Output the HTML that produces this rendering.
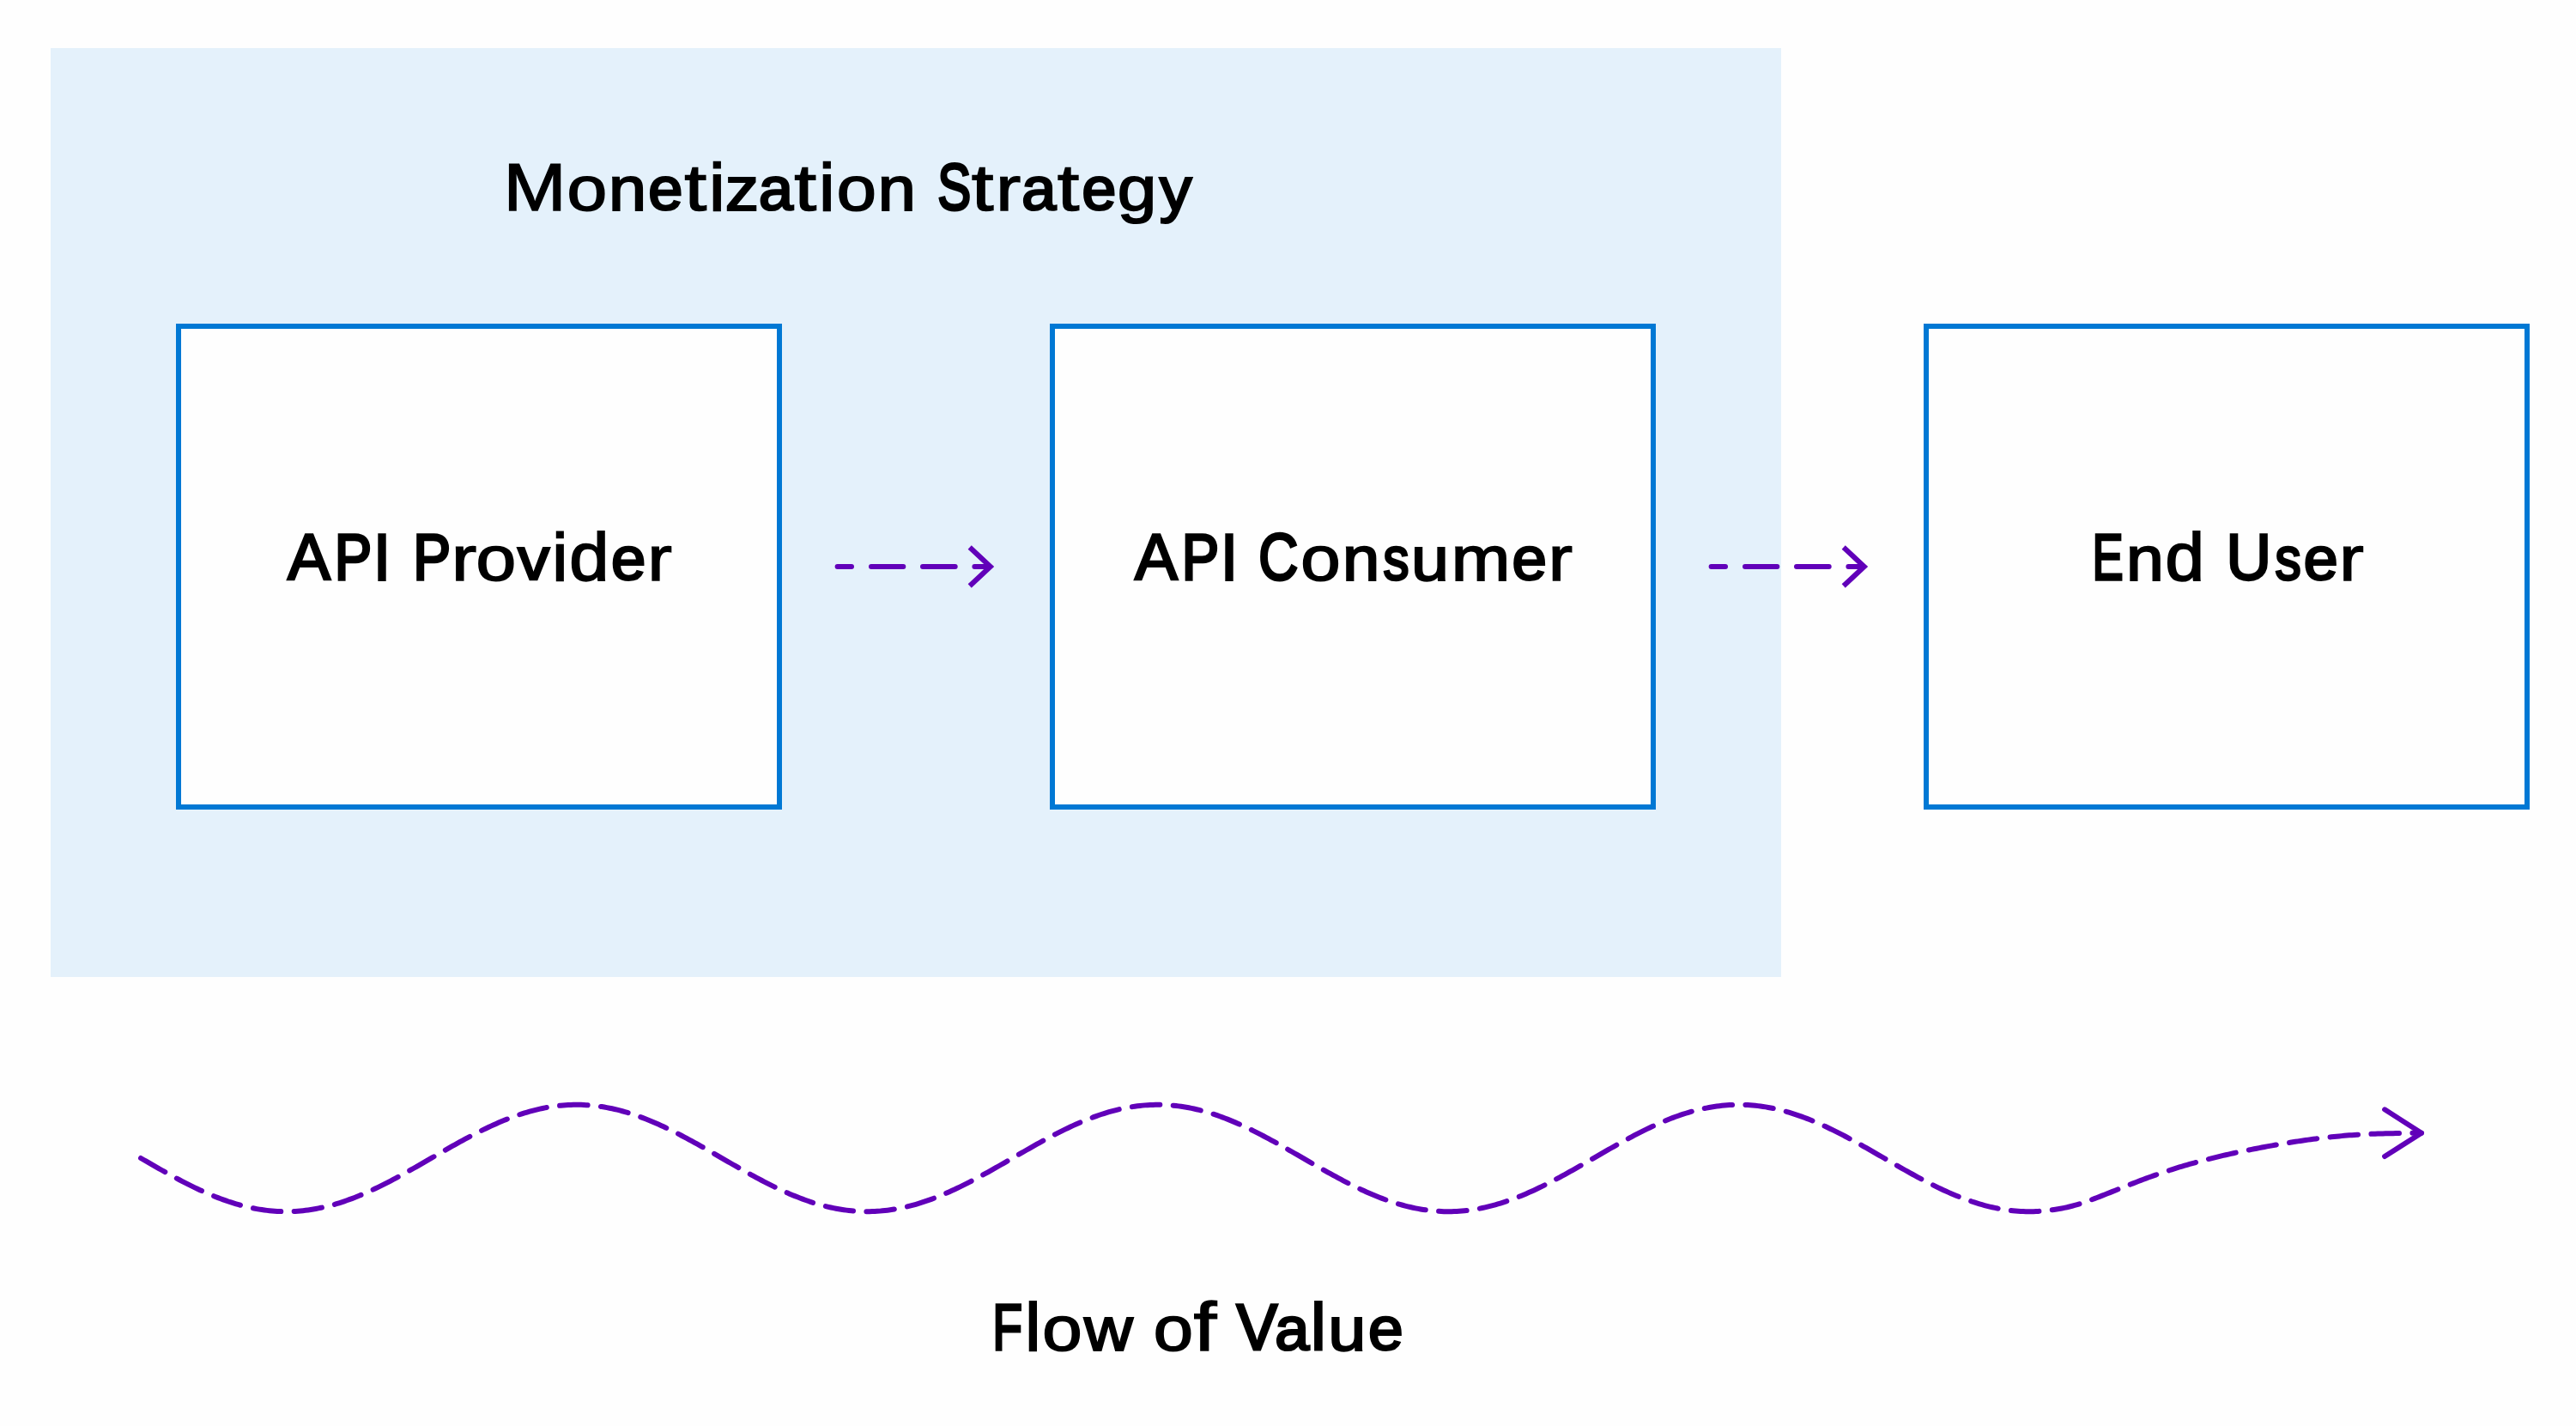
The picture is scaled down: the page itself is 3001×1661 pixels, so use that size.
<!DOCTYPE html>
<html lang="en"><head><meta charset="utf-8"><title>API Monetization - Flow of Value</title>
<style>
html,body{margin:0;padding:0;background:#FEFEFE;}
body{width:3001px;height:1661px;font-family:"Liberation Sans",sans-serif;}
</style></head><body>
<svg width="3001" height="1661" viewBox="0 0 3001 1661" style="display:block;font-family:'Liberation Sans',sans-serif;font-weight:400" fill="#000">
<title>API monetization: flow of value</title>
<desc>Monetization Strategy region containing API Provider and API Consumer, followed by End User; dashed arrows connect the boxes and a wavy dashed arrow labelled Flow of Value runs beneath.</desc>
<rect x="0" y="0" width="3001" height="1661" fill="#FEFEFE"/>
<rect x="59" y="56" width="2016" height="1082" fill="#E4F1FB"/>
<rect x="208" y="380" width="700" height="560" fill="#FEFEFE" stroke="#0078D4" stroke-width="6"/>
<rect x="1226" y="380" width="700" height="560" fill="#FEFEFE" stroke="#0078D4" stroke-width="6"/>
<rect x="2244" y="380" width="700" height="560" fill="#FEFEFE" stroke="#0078D4" stroke-width="6"/>
<line x1="975.6" y1="660" x2="992.0" y2="660" stroke="#6100B9" stroke-width="6" stroke-linecap="round"/>
<line x1="1015.0" y1="660" x2="1052.3" y2="660" stroke="#6100B9" stroke-width="6" stroke-linecap="round"/>
<line x1="1075.0" y1="660" x2="1112.7" y2="660" stroke="#6100B9" stroke-width="6" stroke-linecap="round"/>
<line x1="1135.4" y1="660" x2="1152.0" y2="660" stroke="#6100B9" stroke-width="6" stroke-linecap="round"/>
<polyline points="1129.7,637.5 1153.8,660 1129.7,682.5" fill="none" stroke="#6100B9" stroke-width="6" stroke-linejoin="miter" stroke-linecap="butt"/>
<line x1="1993.6" y1="660" x2="2010.0" y2="660" stroke="#6100B9" stroke-width="6" stroke-linecap="round"/>
<line x1="2033.0" y1="660" x2="2070.3" y2="660" stroke="#6100B9" stroke-width="6" stroke-linecap="round"/>
<line x1="2093.0" y1="660" x2="2130.7" y2="660" stroke="#6100B9" stroke-width="6" stroke-linecap="round"/>
<line x1="2153.4" y1="660" x2="2170.0" y2="660" stroke="#6100B9" stroke-width="6" stroke-linecap="round"/>
<polyline points="2147.7,637.5 2171.8,660 2147.7,682.5" fill="none" stroke="#6100B9" stroke-width="6" stroke-linejoin="miter" stroke-linecap="butt"/>
<path d="M164.00 1349.00 L167.00 1350.73 L170.00 1352.46 L173.00 1354.19 L176.00 1355.91 L179.00 1357.63 L182.00 1359.34 L185.00 1361.05 L188.00 1362.74 L191.00 1364.42 L194.00 1366.10 L197.00 1367.75 L200.00 1369.40 L203.00 1371.03 L206.00 1372.64 L209.00 1374.23 L212.00 1375.80 L215.00 1377.35 L218.00 1378.88 L221.00 1380.39 L224.00 1381.87 L227.00 1383.33 L230.00 1384.76 L233.00 1386.16 L236.00 1387.54 L239.00 1388.88 L242.00 1390.20 L245.00 1391.48 L248.00 1392.73 L251.00 1393.94 L254.00 1395.12 L257.00 1396.26 L260.00 1397.37 L263.00 1398.44 L266.00 1399.47 L269.00 1400.47 L272.00 1401.42 L275.00 1402.33 L278.00 1403.20 L281.00 1404.03 L284.00 1404.81 L287.00 1405.56 L290.00 1406.26 L293.00 1406.91 L296.00 1407.52 L299.00 1408.08 L302.00 1408.60 L305.00 1409.07 L308.00 1409.50 L311.00 1409.88 L314.00 1410.21 L317.00 1410.49 L320.00 1410.73 L323.00 1410.92 L326.00 1411.06 L329.00 1411.15 L332.00 1411.20 L335.00 1411.19 L338.00 1411.14 L341.00 1411.04 L344.00 1410.89 L347.00 1410.69 L350.00 1410.45 L353.00 1410.16 L356.00 1409.82 L359.00 1409.43 L362.00 1409.00 L365.00 1408.52 L368.00 1407.99 L371.00 1407.42 L374.00 1406.80 L377.00 1406.14 L380.00 1405.44 L383.00 1404.69 L386.00 1403.89 L389.00 1403.06 L392.00 1402.18 L395.00 1401.26 L398.00 1400.30 L401.00 1399.30 L404.00 1398.27 L407.00 1397.19 L410.00 1396.08 L413.00 1394.93 L416.00 1393.74 L419.00 1392.52 L422.00 1391.27 L425.00 1389.98 L428.00 1388.66 L431.00 1387.31 L434.00 1385.93 L437.00 1384.53 L440.00 1383.09 L443.00 1381.63 L446.00 1380.14 L449.00 1378.63 L452.00 1377.10 L455.00 1375.54 L458.00 1373.96 L461.00 1372.37 L464.00 1370.76 L467.00 1369.12 L470.00 1367.48 L473.00 1365.82 L476.00 1364.14 L479.00 1362.46 L482.00 1360.76 L485.00 1359.06 L488.00 1357.35 L491.00 1355.63 L494.00 1353.90 L497.00 1352.17 L500.00 1350.44 L503.00 1348.71 L506.00 1346.98 L509.00 1345.25 L512.00 1343.52 L515.00 1341.80 L518.00 1340.08 L521.00 1338.37 L524.00 1336.67 L527.00 1334.98 L530.00 1333.30 L533.00 1331.63 L536.00 1329.97 L539.00 1328.33 L542.00 1326.71 L545.00 1325.10 L548.00 1323.51 L551.00 1321.94 L554.00 1320.39 L557.00 1318.86 L560.00 1317.36 L563.00 1315.88 L566.00 1314.43 L569.00 1313.00 L572.00 1311.60 L575.00 1310.24 L578.00 1308.90 L581.00 1307.59 L584.00 1306.31 L587.00 1305.07 L590.00 1303.86 L593.00 1302.69 L596.00 1301.55 L599.00 1300.45 L602.00 1299.38 L605.00 1298.36 L608.00 1297.37 L611.00 1296.43 L614.00 1295.52 L617.00 1294.66 L620.00 1293.84 L623.00 1293.06 L626.00 1292.32 L629.00 1291.63 L632.00 1290.98 L635.00 1290.38 L638.00 1289.83 L641.00 1289.32 L644.00 1288.85 L647.00 1288.43 L650.00 1288.06 L653.00 1287.74 L656.00 1287.46 L659.00 1287.23 L662.00 1287.05 L665.00 1286.92 L668.00 1286.84 L671.00 1286.80 L674.00 1286.81 L677.00 1286.87 L680.00 1286.98 L683.00 1287.14 L686.00 1287.34 L689.00 1287.60 L692.00 1287.90 L695.00 1288.24 L698.00 1288.64 L701.00 1289.08 L704.00 1289.57 L707.00 1290.10 L710.00 1290.68 L713.00 1291.30 L716.00 1291.97 L719.00 1292.69 L722.00 1293.44 L725.00 1294.24 L728.00 1295.09 L731.00 1295.97 L734.00 1296.90 L737.00 1297.86 L740.00 1298.87 L743.00 1299.91 L746.00 1300.99 L749.00 1302.11 L752.00 1303.27 L755.00 1304.46 L758.00 1305.69 L761.00 1306.95 L764.00 1308.24 L767.00 1309.56 L770.00 1310.92 L773.00 1312.30 L776.00 1313.71 L779.00 1315.15 L782.00 1316.62 L785.00 1318.11 L788.00 1319.62 L791.00 1321.16 L794.00 1322.72 L797.00 1324.30 L800.00 1325.90 L803.00 1327.52 L806.00 1329.15 L809.00 1330.80 L812.00 1332.46 L815.00 1334.14 L818.00 1335.82 L821.00 1337.52 L824.00 1339.23 L827.00 1340.94 L830.00 1342.66 L833.00 1344.39 L836.00 1346.11 L839.00 1347.85 L842.00 1349.58 L845.00 1351.31 L848.00 1353.04 L851.00 1354.76 L854.00 1356.49 L857.00 1358.20 L860.00 1359.91 L863.00 1361.61 L866.00 1363.30 L869.00 1364.98 L872.00 1366.65 L875.00 1368.30 L878.00 1369.94 L881.00 1371.56 L884.00 1373.17 L887.00 1374.76 L890.00 1376.32 L893.00 1377.87 L896.00 1379.39 L899.00 1380.89 L902.00 1382.36 L905.00 1383.81 L908.00 1385.23 L911.00 1386.63 L914.00 1387.99 L917.00 1389.32 L920.00 1390.63 L923.00 1391.90 L926.00 1393.13 L929.00 1394.34 L932.00 1395.51 L935.00 1396.64 L938.00 1397.73 L941.00 1398.79 L944.00 1399.81 L947.00 1400.79 L950.00 1401.73 L953.00 1402.62 L956.00 1403.48 L959.00 1404.30 L962.00 1405.07 L965.00 1405.80 L968.00 1406.48 L971.00 1407.12 L974.00 1407.71 L977.00 1408.26 L980.00 1408.76 L983.00 1409.22 L986.00 1409.63 L989.00 1409.99 L992.00 1410.31 L995.00 1410.58 L998.00 1410.80 L1001.00 1410.97 L1004.00 1411.10 L1007.00 1411.17 L1010.00 1411.20 L1013.00 1411.18 L1016.00 1411.11 L1019.00 1411.00 L1022.00 1410.83 L1025.00 1410.62 L1028.00 1410.36 L1031.00 1410.05 L1034.00 1409.70 L1037.00 1409.29 L1040.00 1408.84 L1043.00 1408.35 L1046.00 1407.81 L1049.00 1407.22 L1052.00 1406.59 L1055.00 1405.91 L1058.00 1405.19 L1061.00 1404.43 L1064.00 1403.62 L1067.00 1402.77 L1070.00 1401.88 L1073.00 1400.95 L1076.00 1399.97 L1079.00 1398.96 L1082.00 1397.91 L1085.00 1396.82 L1088.00 1395.70 L1091.00 1394.54 L1094.00 1393.34 L1097.00 1392.11 L1100.00 1390.84 L1103.00 1389.54 L1106.00 1388.21 L1109.00 1386.86 L1112.00 1385.47 L1115.00 1384.05 L1118.00 1382.61 L1121.00 1381.14 L1124.00 1379.64 L1127.00 1378.12 L1130.00 1376.58 L1133.00 1375.02 L1136.00 1373.43 L1139.00 1371.83 L1142.00 1370.21 L1145.00 1368.58 L1148.00 1366.93 L1151.00 1365.26 L1154.00 1363.58 L1157.00 1361.89 L1160.00 1360.20 L1163.00 1358.49 L1166.00 1356.77 L1169.00 1355.05 L1172.00 1353.33 L1175.00 1351.60 L1178.00 1349.87 L1181.00 1348.13 L1184.00 1346.40 L1187.00 1344.67 L1190.00 1342.95 L1193.00 1341.23 L1196.00 1339.51 L1199.00 1337.80 L1202.00 1336.11 L1205.00 1334.42 L1208.00 1332.74 L1211.00 1331.07 L1214.00 1329.42 L1217.00 1327.79 L1220.00 1326.17 L1223.00 1324.57 L1226.00 1322.98 L1229.00 1321.42 L1232.00 1319.88 L1235.00 1318.36 L1238.00 1316.86 L1241.00 1315.39 L1244.00 1313.95 L1247.00 1312.53 L1250.00 1311.14 L1253.00 1309.79 L1256.00 1308.46 L1259.00 1307.16 L1262.00 1305.89 L1265.00 1304.66 L1268.00 1303.46 L1271.00 1302.30 L1274.00 1301.18 L1277.00 1300.09 L1280.00 1299.04 L1283.00 1298.03 L1286.00 1297.05 L1289.00 1296.12 L1292.00 1295.23 L1295.00 1294.38 L1298.00 1293.57 L1301.00 1292.81 L1304.00 1292.09 L1307.00 1291.41 L1310.00 1290.78 L1313.00 1290.19 L1316.00 1289.65 L1319.00 1289.16 L1322.00 1288.71 L1325.00 1288.30 L1328.00 1287.95 L1331.00 1287.64 L1334.00 1287.38 L1337.00 1287.17 L1340.00 1287.00 L1343.00 1286.89 L1346.00 1286.82 L1349.00 1286.80 L1352.00 1286.83 L1355.00 1286.90 L1358.00 1287.03 L1361.00 1287.20 L1364.00 1287.42 L1367.00 1287.69 L1370.00 1288.01 L1373.00 1288.37 L1376.00 1288.78 L1379.00 1289.24 L1382.00 1289.74 L1385.00 1290.29 L1388.00 1290.88 L1391.00 1291.52 L1394.00 1292.20 L1397.00 1292.93 L1400.00 1293.70 L1403.00 1294.52 L1406.00 1295.38 L1409.00 1296.27 L1412.00 1297.21 L1415.00 1298.19 L1418.00 1299.21 L1421.00 1300.27 L1424.00 1301.36 L1427.00 1302.49 L1430.00 1303.66 L1433.00 1304.87 L1436.00 1306.10 L1439.00 1307.37 L1442.00 1308.68 L1445.00 1310.01 L1448.00 1311.37 L1451.00 1312.77 L1454.00 1314.19 L1457.00 1315.64 L1460.00 1317.11 L1463.00 1318.61 L1466.00 1320.13 L1469.00 1321.68 L1472.00 1323.24 L1475.00 1324.83 L1478.00 1326.44 L1481.00 1328.06 L1484.00 1329.70 L1487.00 1331.35 L1490.00 1333.02 L1493.00 1334.70 L1496.00 1336.39 L1499.00 1338.09 L1502.00 1339.80 L1505.00 1341.51 L1508.00 1343.24 L1511.00 1344.96 L1514.00 1346.69 L1517.00 1348.42 L1520.00 1350.15 L1523.00 1351.89 L1526.00 1353.61 L1529.00 1355.34 L1532.00 1357.06 L1535.00 1358.77 L1538.00 1360.48 L1541.00 1362.18 L1544.00 1363.86 L1547.00 1365.54 L1550.00 1367.20 L1553.00 1368.85 L1556.00 1370.48 L1559.00 1372.10 L1562.00 1373.70 L1565.00 1375.28 L1568.00 1376.84 L1571.00 1378.38 L1574.00 1379.89 L1577.00 1381.38 L1580.00 1382.85 L1583.00 1384.29 L1586.00 1385.70 L1589.00 1387.08 L1592.00 1388.44 L1595.00 1389.76 L1598.00 1391.05 L1601.00 1392.31 L1604.00 1393.54 L1607.00 1394.73 L1610.00 1395.89 L1613.00 1397.01 L1616.00 1398.09 L1619.00 1399.13 L1622.00 1400.14 L1625.00 1401.10 L1628.00 1402.03 L1631.00 1402.91 L1634.00 1403.76 L1637.00 1404.56 L1640.00 1405.31 L1643.00 1406.03 L1646.00 1406.70 L1649.00 1407.32 L1652.00 1407.90 L1655.00 1408.43 L1658.00 1408.92 L1661.00 1409.36 L1664.00 1409.76 L1667.00 1410.10 L1670.00 1410.40 L1673.00 1410.66 L1676.00 1410.86 L1679.00 1411.02 L1682.00 1411.13 L1685.00 1411.19 L1688.00 1411.20 L1691.00 1411.16 L1694.00 1411.08 L1697.00 1410.95 L1700.00 1410.77 L1703.00 1410.54 L1706.00 1410.26 L1709.00 1409.94 L1712.00 1409.57 L1715.00 1409.15 L1718.00 1408.68 L1721.00 1408.17 L1724.00 1407.62 L1727.00 1407.02 L1730.00 1406.37 L1733.00 1405.68 L1736.00 1404.94 L1739.00 1404.16 L1742.00 1403.34 L1745.00 1402.48 L1748.00 1401.57 L1751.00 1400.63 L1754.00 1399.64 L1757.00 1398.62 L1760.00 1397.55 L1763.00 1396.45 L1766.00 1395.31 L1769.00 1394.14 L1772.00 1392.93 L1775.00 1391.69 L1778.00 1390.41 L1781.00 1389.10 L1784.00 1387.76 L1787.00 1386.40 L1790.00 1385.00 L1793.00 1383.57 L1796.00 1382.12 L1799.00 1380.64 L1802.00 1379.14 L1805.00 1377.61 L1808.00 1376.06 L1811.00 1374.49 L1814.00 1372.90 L1817.00 1371.29 L1820.00 1369.67 L1823.00 1368.03 L1826.00 1366.37 L1829.00 1364.70 L1832.00 1363.02 L1835.00 1361.33 L1838.00 1359.63 L1841.00 1357.92 L1844.00 1356.20 L1847.00 1354.48 L1850.00 1352.75 L1853.00 1351.02 L1856.00 1349.29 L1859.00 1347.56 L1862.00 1345.83 L1865.00 1344.10 L1868.00 1342.37 L1871.00 1340.65 L1874.00 1338.94 L1877.00 1337.24 L1880.00 1335.54 L1883.00 1333.86 L1886.00 1332.18 L1889.00 1330.52 L1892.00 1328.88 L1895.00 1327.24 L1898.00 1325.63 L1901.00 1324.04 L1904.00 1322.46 L1907.00 1320.90 L1910.00 1319.37 L1913.00 1317.86 L1916.00 1316.37 L1919.00 1314.91 L1922.00 1313.47 L1925.00 1312.07 L1928.00 1310.69 L1931.00 1309.34 L1934.00 1308.02 L1937.00 1306.73 L1940.00 1305.48 L1943.00 1304.26 L1946.00 1303.07 L1949.00 1301.92 L1952.00 1300.81 L1955.00 1299.73 L1958.00 1298.70 L1961.00 1297.70 L1964.00 1296.74 L1967.00 1295.82 L1970.00 1294.94 L1973.00 1294.11 L1976.00 1293.31 L1979.00 1292.56 L1982.00 1291.86 L1985.00 1291.20 L1988.00 1290.58 L1991.00 1290.01 L1994.00 1289.48 L1997.00 1289.00 L2000.00 1288.57 L2003.00 1288.18 L2006.00 1287.84 L2009.00 1287.55 L2012.00 1287.31 L2015.00 1287.11 L2018.00 1286.96 L2021.00 1286.86 L2024.00 1286.81 L2027.00 1286.80 L2030.00 1286.85 L2033.00 1286.94 L2036.00 1287.08 L2039.00 1287.27 L2042.00 1287.51 L2045.00 1287.79 L2048.00 1288.12 L2051.00 1288.50 L2054.00 1288.93 L2057.00 1289.40 L2060.00 1289.92 L2063.00 1290.48 L2066.00 1291.09 L2069.00 1291.74 L2072.00 1292.44 L2075.00 1293.19 L2078.00 1293.97 L2081.00 1294.80 L2084.00 1295.67 L2087.00 1296.58 L2090.00 1297.53 L2093.00 1298.53 L2096.00 1299.56 L2099.00 1300.63 L2102.00 1301.74 L2105.00 1302.88 L2108.00 1304.06 L2111.00 1305.27 L2114.00 1306.52 L2117.00 1307.80 L2120.00 1309.12 L2123.00 1310.46 L2126.00 1311.84 L2129.00 1313.24 L2132.00 1314.67 L2135.00 1316.13 L2138.00 1317.61 L2141.00 1319.12 L2144.00 1320.65 L2147.00 1322.20 L2150.00 1323.77 L2153.00 1325.36 L2156.00 1326.97 L2159.00 1328.60 L2162.00 1330.25 L2165.00 1331.90 L2168.00 1333.58 L2171.00 1335.26 L2174.00 1336.95 L2177.00 1338.66 L2180.00 1340.37 L2183.00 1342.09 L2186.00 1343.81 L2189.00 1345.54 L2192.00 1347.27 L2195.00 1349.00 L2198.00 1350.73 L2201.00 1352.46 L2204.00 1354.19 L2207.00 1355.91 L2210.00 1357.63 L2213.00 1359.34 L2216.00 1361.05 L2219.00 1362.74 L2222.00 1364.42 L2225.00 1366.10 L2228.00 1367.75 L2231.00 1369.40 L2234.00 1371.03 L2237.00 1372.64 L2240.00 1374.23 L2243.00 1375.80 L2246.00 1377.35 L2249.00 1378.88 L2252.00 1380.39 L2255.00 1381.87 L2258.00 1383.33 L2261.00 1384.76 L2264.00 1386.16 L2267.00 1387.54 L2270.00 1388.88 L2273.00 1390.20 L2276.00 1391.48 L2279.00 1392.73 L2282.00 1393.94 L2285.00 1395.12 L2288.00 1396.26 L2291.00 1397.37 L2294.00 1398.44 L2297.00 1399.47 L2300.00 1400.47 L2303.00 1401.42 L2306.00 1402.33 L2309.00 1403.20 L2312.00 1404.03 L2315.00 1404.81 L2318.00 1405.56 L2321.00 1406.26 L2324.00 1406.91 L2327.00 1407.52 L2330.00 1408.08 L2333.00 1408.60 L2336.00 1409.07 L2339.00 1409.50 L2342.00 1409.88 L2345.00 1410.21 L2348.00 1410.49 L2351.00 1410.73 L2354.00 1410.92 L2357.00 1411.06 L2360.00 1411.15 L2363.00 1411.20 L2366.00 1411.19 L2369.00 1411.14 L2372.00 1411.04 L2375.00 1410.89 L2378.00 1410.69 L2381.00 1410.45 L2384.00 1410.16 L2387.00 1409.82 L2390.00 1409.43 L2393.00 1409.00 L2396.00 1408.52 L2399.00 1408.02 L2402.00 1407.47 L2405.00 1406.87 L2408.00 1406.23 L2411.00 1405.52 L2414.00 1404.77 L2417.00 1403.96 L2420.00 1403.09 L2423.00 1402.17 L2426.00 1401.19 L2429.00 1400.17 L2432.00 1399.11 L2435.00 1398.01 L2437.00 1397.26 L2440.00 1396.14 L2443.00 1395.00 L2446.00 1393.84 L2449.00 1392.66 L2452.00 1391.48 L2455.00 1390.29 L2458.00 1389.09 L2461.00 1387.89 L2464.00 1386.68 L2467.00 1385.48 L2470.00 1384.28 L2473.00 1383.08 L2476.00 1381.89 L2479.00 1380.70 L2482.00 1379.52 L2485.00 1378.35 L2488.00 1377.19 L2491.00 1376.03 L2494.00 1374.90 L2497.00 1373.77 L2500.00 1372.65 L2503.00 1371.55 L2506.00 1370.47 L2509.00 1369.39 L2512.00 1368.33 L2515.00 1367.29 L2518.00 1366.26 L2521.00 1365.25 L2524.00 1364.25 L2527.00 1363.27 L2530.00 1362.30 L2533.00 1361.35 L2536.00 1360.42 L2539.00 1359.49 L2542.00 1358.59 L2545.00 1357.70 L2548.00 1356.82 L2551.00 1355.96 L2554.00 1355.11 L2557.00 1354.28 L2560.00 1353.46 L2563.00 1352.65 L2566.00 1351.86 L2569.00 1351.08 L2572.00 1350.31 L2575.00 1349.55 L2578.00 1348.81 L2581.00 1348.08 L2584.00 1347.36 L2587.00 1346.64 L2590.00 1345.94 L2593.00 1345.25 L2596.00 1344.57 L2599.00 1343.90 L2602.00 1343.24 L2605.00 1342.59 L2608.00 1341.95 L2611.00 1341.32 L2614.00 1340.69 L2617.00 1340.07 L2620.00 1339.47 L2623.00 1338.87 L2626.00 1338.27 L2629.00 1337.69 L2632.00 1337.11 L2635.00 1336.54 L2638.00 1335.98 L2641.00 1335.42 L2644.00 1334.88 L2647.00 1334.34 L2650.00 1333.81 L2653.00 1333.28 L2656.00 1332.77 L2659.00 1332.26 L2662.00 1331.76 L2665.00 1331.26 L2668.00 1330.78 L2671.00 1330.30 L2674.00 1329.84 L2677.00 1329.38 L2680.00 1328.93 L2683.00 1328.48 L2686.00 1328.05 L2689.00 1327.63 L2692.00 1327.22 L2695.00 1326.82 L2698.00 1326.42 L2701.00 1326.04 L2704.00 1325.67 L2707.00 1325.31 L2710.00 1324.96 L2713.00 1324.63 L2716.00 1324.30 L2719.00 1323.99 L2722.00 1323.69 L2725.00 1323.40 L2728.00 1323.12 L2731.00 1322.86 L2734.00 1322.60 L2737.00 1322.36 L2740.00 1322.14 L2743.00 1321.93 L2746.00 1321.73 L2749.00 1321.54 L2752.00 1321.36 L2755.00 1321.20 L2758.00 1321.05 L2761.00 1320.91 L2764.00 1320.79 L2767.00 1320.67 L2770.00 1320.57 L2773.00 1320.47 L2776.00 1320.39 L2779.00 1320.31 L2782.00 1320.24 L2785.00 1320.18 L2788.00 1320.13 L2791.00 1320.08 L2794.00 1320.04 L2797.00 1320.00 L2800.00 1319.96 L2803.00 1319.92 L2806.00 1319.87 L2809.00 1319.83 L2812.00 1319.78 L2815.00 1319.72 L2818.00 1319.65 L2821.00 1319.70" fill="none" stroke="#6100B9" stroke-width="6" stroke-linecap="round" stroke-linejoin="round" stroke-dasharray="32.6 15.4"/>
<polyline points="2778.1,1292.3 2821,1319.7 2778.1,1347.0" fill="none" stroke="#6100B9" stroke-width="6" stroke-linejoin="round" stroke-linecap="round"/>
<g text-rendering="geometricPrecision" font-size="77.5" stroke="#000" stroke-linejoin="miter">
<text transform="matrix(1.1325 0 0 1.0108 586.39 245)" stroke-width="1.40">M</text>
<text transform="matrix(1.0834 0 0 0.9422 660.50 245)" stroke-width="1.71">o</text>
<text transform="matrix(1.0222 0 0 0.9369 708.96 245)" stroke-width="2.20">n</text>
<text transform="matrix(0.9316 0 0 0.9047 755.34 244)" stroke-width="3.03">e</text>
<text transform="matrix(1.2080 0 0 0.9901 797.13 245)" stroke-width="1.40">t</text>
<text transform="matrix(1.0000 0 0 0.9991 826.71 245)" stroke-width="2.39">i</text>
<text transform="matrix(1.0143 0 0 0.9245 844.76 245)" stroke-width="2.26">z</text>
<text transform="matrix(0.9254 0 0 0.9041 884.08 244)" stroke-width="3.09">a</text>
<text transform="matrix(1.2033 0 0 0.9901 925.13 245)" stroke-width="1.40">t</text>
<text transform="matrix(1.0000 0 0 0.9991 954.71 245)" stroke-width="2.39">i</text>
<text transform="matrix(1.0701 0 0 0.9411 974.69 245)" stroke-width="1.81">o</text>
<text transform="matrix(1.0222 0 0 0.9369 1022.86 245)" stroke-width="2.20">n</text>
<text transform="matrix(0.7539 0 0 0.9854 1092.33 244)" stroke-width="3.40">S</text>
<text transform="matrix(1.1986 0 0 0.9901 1131.63 245)" stroke-width="1.40">t</text>
<text transform="matrix(1.1360 0 0 0.9457 1160.05 245)" stroke-width="1.40">r</text>
<text transform="matrix(0.9291 0 0 0.9045 1190.16 244)" stroke-width="3.05">a</text>
<text transform="matrix(1.1892 0 0 0.9901 1231.64 245)" stroke-width="1.40">t</text>
<text transform="matrix(0.9216 0 0 0.9037 1260.61 244)" stroke-width="3.13">e</text>
<text transform="matrix(1.0583 0 0 0.9426 1301.76 245)" stroke-width="1.91">g</text>
<text transform="matrix(0.9751 0 0 0.9207 1350.69 245)" stroke-width="2.61">y</text>
<text transform="matrix(0.9672 0 0 0.9842 335.05 675)" stroke-width="2.68">A</text>
<text transform="matrix(0.8399 0 0 0.9778 389.79 675)" stroke-width="3.40">P</text>
<text transform="matrix(1.0000 0 0 1.0073 434.13 676)" stroke-width="2.17">I</text>
<text transform="matrix(0.8489 0 0 0.9778 481.25 675)" stroke-width="3.40">P</text>
<text transform="matrix(1.1456 0 0 0.9504 525.71 676)" stroke-width="1.40">r</text>
<text transform="matrix(1.0834 0 0 0.9469 554.40 676)" stroke-width="1.71">o</text>
<text transform="matrix(0.9652 0 0 0.9008 603.05 675)" stroke-width="2.70">v</text>
<text transform="matrix(1.0000 0 0 1.0035 643.86 676)" stroke-width="2.29">i</text>
<text transform="matrix(1.0723 0 0 1.0165 663.27 676)" stroke-width="1.80">d</text>
<text transform="matrix(0.9349 0 0 0.9097 712.12 675)" stroke-width="3.00">e</text>
<text transform="matrix(1.1105 0 0 0.9491 754.33 676)" stroke-width="1.52">r</text>
<text transform="matrix(0.9672 0 0 0.9842 1322.05 675)" stroke-width="2.68">A</text>
<text transform="matrix(0.8399 0 0 0.9778 1376.79 675)" stroke-width="3.40">P</text>
<text transform="matrix(1.0000 0 0 1.0073 1421.13 676)" stroke-width="2.17">I</text>
<text transform="matrix(0.8232 0 0 0.9890 1466.26 675)" stroke-width="3.40">C</text>
<text transform="matrix(1.0767 0 0 0.9464 1515.25 676)" stroke-width="1.76">o</text>
<text transform="matrix(1.0034 0 0 0.9398 1564.02 676)" stroke-width="2.36">n</text>
<text transform="matrix(0.7743 0 0 0.9079 1611.55 675)" stroke-width="3.40">s</text>
<text transform="matrix(1.0185 0 0 0.9296 1644.11 676)" stroke-width="2.23">u</text>
<text transform="matrix(1.0628 0 0 0.9452 1690.82 676)" stroke-width="1.87">m</text>
<text transform="matrix(0.9382 0 0 0.9101 1761.40 675)" stroke-width="2.96">e</text>
<text transform="matrix(1.0951 0 0 0.9479 1803.65 676)" stroke-width="1.63">r</text>
<text transform="matrix(0.6982 0 0 0.9778 2437.55 675)" stroke-width="3.40">E</text>
<text transform="matrix(1.0147 0 0 0.9409 2477.02 676)" stroke-width="2.26">n</text>
<text transform="matrix(1.0548 0 0 1.0153 2522.59 676)" stroke-width="1.93">d</text>
<text transform="matrix(0.9390 0 0 0.9818 2593.47 675)" stroke-width="2.96">U</text>
<text transform="matrix(0.7797 0 0 0.9079 2650.44 675)" stroke-width="3.40">s</text>
<text transform="matrix(0.9249 0 0 0.9087 2683.79 675)" stroke-width="3.10">e</text>
<text transform="matrix(1.1182 0 0 0.9497 2725.06 676)" stroke-width="1.46">r</text>
<text transform="matrix(0.7340 0 0 0.9778 1156.28 1572)" stroke-width="3.40">F</text>
<text transform="matrix(1.0000 0 0 1.0104 1194.72 1573)" stroke-width="2.49">l</text>
<text transform="matrix(1.0767 0 0 0.9464 1214.25 1573)" stroke-width="1.76">o</text>
<text transform="matrix(1.0149 0 0 0.9293 1263.06 1573)" stroke-width="2.26">w</text>
<text transform="matrix(1.0734 0 0 0.9461 1343.77 1573)" stroke-width="1.79">o</text>
<text transform="matrix(1.2438 0 0 1.0355 1390.51 1573)" stroke-width="1.40">f</text>
<text transform="matrix(0.9239 0 0 0.9804 1440.52 1572)" stroke-width="3.11">V</text>
<text transform="matrix(0.9291 0 0 0.9091 1485.26 1572)" stroke-width="3.05">a</text>
<text transform="matrix(1.0000 0 0 0.9904 1527.37 1572)" stroke-width="2.79">l</text>
<text transform="matrix(1.0222 0 0 0.9300 1547.18 1573)" stroke-width="2.20">u</text>
<text transform="matrix(0.9449 0 0 0.9108 1594.06 1572)" stroke-width="2.90">e</text>
</g>
</svg>
</body></html>
